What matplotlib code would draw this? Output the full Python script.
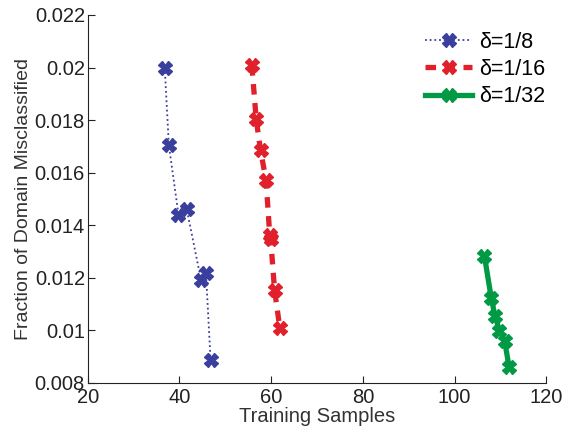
import matplotlib.pyplot as plt

plt.rcParams['font.family'] = ['Liberation Sans', 'DejaVu Sans']

# delta = 1/8
x_8 = [36.8, 37.7, 39.8, 41.6, 44.7, 45.8, 46.8]
y_8 = [0.02, 0.01705, 0.0144, 0.01461, 0.01192, 0.01216, 0.00886]

# delta = 1/16
x_16 = [55.8, 56.75, 57.7, 58.9, 59.7, 59.9, 60.75, 61.9]
y_16 = [0.02009, 0.01802, 0.01685, 0.0157, 0.01362, 0.01348, 0.01153, 0.01008]

# delta = 1/32
x_32 = [106.5, 108.0, 108.8, 109.8, 110.9, 111.9]
y_32 = [0.01284, 0.01123, 0.01055, 0.00998, 0.0096, 0.0086]

fig = plt.figure(figsize=(5.62, 4.28), dpi=100)
ax = fig.add_axes([0.156, 0.106, 0.816, 0.859])

ax.plot(x_8, y_8, linestyle=':', color='#3a3f9e', linewidth=1.3,
        dashes=(1, 1.6), marker='X', markersize=10, label='δ=1/8')
ax.plot(x_16, y_16, linestyle='--', color='#e0202a', linewidth=3.8,
        marker='X', markersize=10, dashes=(2, 1.6), label='δ=1/16')
ax.plot(x_32, y_32, linestyle='-', color='#009a44', linewidth=3.8,
        marker='X', markersize=10, label='δ=1/32')

ax.set_xlim(20, 120)
ax.set_ylim(0.008, 0.022)
ax.set_xticks([20, 40, 60, 80, 100, 120])
ax.set_yticks([0.008, 0.01, 0.012, 0.014, 0.016, 0.018, 0.02, 0.022])
ax.set_yticklabels(['0.008', '0.01', '0.012', '0.014', '0.016', '0.018', '0.02', '0.022'])
ax.tick_params(direction='in', labelsize=14.5, length=5, colors='#222222')
ax.tick_params(axis='x', pad=4)
ax.tick_params(axis='y', pad=2)
for s in ['top', 'right']:
    ax.spines[s].set_visible(False)
for s in ['left', 'bottom']:
    ax.spines[s].set_color('#222222')

ax.set_xlabel('Training Samples', fontsize=14.5, color='#333333', labelpad=0)
ax.set_ylabel('Fraction of Domain Misclassified', fontsize=14, color='#333333', labelpad=2)

ax.legend(loc='upper right', frameon=False, fontsize=15.5, handlelength=2.2,
          handletextpad=0.3, borderaxespad=0.2, labelspacing=0.3,
          bbox_to_anchor=(1.025, 0.99))

fig.savefig('out.png', dpi=100)
